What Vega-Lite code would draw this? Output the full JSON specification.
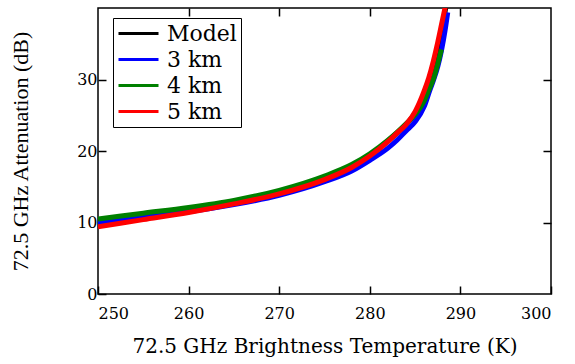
{
  "$schema": "https://vega.github.io/schema/vega-lite/v6.json",
  "autosize": "none",
  "padding": {"left": 98, "top": 8, "right": 24, "bottom": 70},
  "width": 453,
  "height": 286,
  "background": "white",
  "config": {"view": {"stroke": "black", "strokeWidth": 1.5}},
  "data": {"values": [
    {"s": "Model", "t": 250, "a": 10.0}, {"s": "Model", "t": 255, "a": 10.9}, {"s": "Model", "t": 260, "a": 11.8}, {"s": "Model", "t": 265, "a": 12.8}, {"s": "Model", "t": 270, "a": 14.2}, {"s": "Model", "t": 275, "a": 16.2}, {"s": "Model", "t": 278, "a": 17.9}, {"s": "Model", "t": 280, "a": 19.4}, {"s": "Model", "t": 282, "a": 21.4}, {"s": "Model", "t": 283, "a": 22.5}, {"s": "Model", "t": 284, "a": 23.7}, {"s": "Model", "t": 285, "a": 25.3}, {"s": "Model", "t": 286, "a": 27.8}, {"s": "Model", "t": 286.5, "a": 29.5}, {"s": "Model", "t": 287, "a": 31.5}, {"s": "Model", "t": 287.5, "a": 34.0}, {"s": "Model", "t": 288, "a": 37.2}, {"s": "Model", "t": 288.45, "a": 40.6},
    {"s": "3 km", "t": 250, "a": 9.9}, {"s": "3 km", "t": 255, "a": 10.8}, {"s": "3 km", "t": 260, "a": 11.5}, {"s": "3 km", "t": 265, "a": 12.5}, {"s": "3 km", "t": 270, "a": 13.8}, {"s": "3 km", "t": 275, "a": 15.7}, {"s": "3 km", "t": 278, "a": 17.2}, {"s": "3 km", "t": 280, "a": 18.7}, {"s": "3 km", "t": 282, "a": 20.4}, {"s": "3 km", "t": 283, "a": 21.5}, {"s": "3 km", "t": 284, "a": 22.8}, {"s": "3 km", "t": 285, "a": 24.1}, {"s": "3 km", "t": 286, "a": 26.2}, {"s": "3 km", "t": 286.6, "a": 28.4}, {"s": "3 km", "t": 287, "a": 29.8}, {"s": "3 km", "t": 287.5, "a": 31.8}, {"s": "3 km", "t": 287.9, "a": 34.0}, {"s": "3 km", "t": 288.3, "a": 36.8}, {"s": "3 km", "t": 288.6, "a": 39.4},
    {"s": "4 km", "t": 250, "a": 10.5}, {"s": "4 km", "t": 255, "a": 11.3}, {"s": "4 km", "t": 260, "a": 12.1}, {"s": "4 km", "t": 265, "a": 13.1}, {"s": "4 km", "t": 270, "a": 14.5}, {"s": "4 km", "t": 275, "a": 16.5}, {"s": "4 km", "t": 278, "a": 18.1}, {"s": "4 km", "t": 280, "a": 19.6}, {"s": "4 km", "t": 282, "a": 21.5}, {"s": "4 km", "t": 283, "a": 22.6}, {"s": "4 km", "t": 284, "a": 23.8}, {"s": "4 km", "t": 285, "a": 25.1}, {"s": "4 km", "t": 286, "a": 27.0}, {"s": "4 km", "t": 286.5, "a": 28.5}, {"s": "4 km", "t": 287, "a": 30.0}, {"s": "4 km", "t": 287.5, "a": 32.2}, {"s": "4 km", "t": 287.9, "a": 34.2},
    {"s": "5 km", "t": 250, "a": 9.4}, {"s": "5 km", "t": 255, "a": 10.4}, {"s": "5 km", "t": 260, "a": 11.4}, {"s": "5 km", "t": 265, "a": 12.6}, {"s": "5 km", "t": 270, "a": 14.0}, {"s": "5 km", "t": 275, "a": 16.0}, {"s": "5 km", "t": 278, "a": 17.7}, {"s": "5 km", "t": 280, "a": 19.3}, {"s": "5 km", "t": 282, "a": 21.3}, {"s": "5 km", "t": 283, "a": 22.5}, {"s": "5 km", "t": 284, "a": 23.7}, {"s": "5 km", "t": 285, "a": 25.5}, {"s": "5 km", "t": 286, "a": 28.4}, {"s": "5 km", "t": 286.5, "a": 30.2}, {"s": "5 km", "t": 287, "a": 32.5}, {"s": "5 km", "t": 287.5, "a": 35.2}, {"s": "5 km", "t": 288, "a": 38.2}, {"s": "5 km", "t": 288.4, "a": 40.6}
  ]},
  "layer": [
    {
      "mark": {"type": "line", "strokeWidth": 5, "clip": true, "interpolate": "monotone"},
      "encoding": {
        "x": {"field": "t", "type": "quantitative", "scale": {"domain": [250, 300], "nice": false, "zero": false},
          "axis": {"values": [250, 260, 270, 280, 290, 300], "title": "72.5 GHz Brightness Temperature (K)", "grid": false,
            "domain": false, "tickSize": -8, "tickColor": "black", "tickWidth": 1.5, "labelPadding": 19,
            "labelFont": "DejaVu Serif", "labelFontSize": 16, "labelColor": "black", "labelFontWeight": "normal",
            "titleFont": "DejaVu Serif", "titleFontSize": 20, "titleFontWeight": "normal", "titleColor": "black", "titlePadding": 15}},
        "y": {"field": "a", "type": "quantitative", "scale": {"domain": [0, 40], "nice": false},
          "axis": {"values": [0, 10, 20, 30], "title": "72.5 GHz Attenuation (dB)", "grid": false,
            "domain": false, "tickSize": -8, "tickColor": "black", "tickWidth": 1.5, "labelPadding": 9,
            "labelFont": "DejaVu Serif", "labelFontSize": 16, "labelColor": "black",
            "titleFont": "Liberation Serif", "titleFontSize": 22, "titleFontWeight": "normal", "titleColor": "black", "titlePadding": 44}},
        "color": {"field": "s", "type": "nominal",
          "scale": {"domain": ["Model", "3 km", "4 km", "5 km"], "range": ["#000000", "#0000ff", "#008000", "#ff0000"]},
          "sort": ["Model", "3 km", "4 km", "5 km"],
          "legend": {"title": null, "orient": "none", "legendX": 15, "legendY": 10,
            "symbolType": "M-1,0H3", "symbolSize": 400, "symbolStrokeWidth": 3,
            "labelFont": "DejaVu Serif", "labelFontSize": 22, "labelColor": "black",
            "strokeColor": "black", "padding": 4, "rowPadding": 3, "labelOffset": 27,
            "fillColor": "white"}}
      }
    },
    {
      "mark": {"type": "point", "opacity": 0},
      "encoding": {
        "x": {"field": "t", "type": "quantitative", "scale": {"domain": [250, 300], "nice": false, "zero": false},
          "axis": {"orient": "top", "values": [260, 270, 280, 290], "labels": false, "title": null, "grid": false, "domain": false, "tickSize": -8, "tickColor": "black", "tickWidth": 1.5}},
        "y": {"field": "a", "type": "quantitative", "scale": {"domain": [0, 40], "nice": false},
          "axis": {"orient": "right", "values": [10, 20, 30], "labels": false, "title": null, "grid": false, "domain": false, "tickSize": -8, "tickColor": "black", "tickWidth": 1.5}}
      }
    }
  ],
  "resolve": {"scale": {"x": "independent", "y": "independent"}}
}
